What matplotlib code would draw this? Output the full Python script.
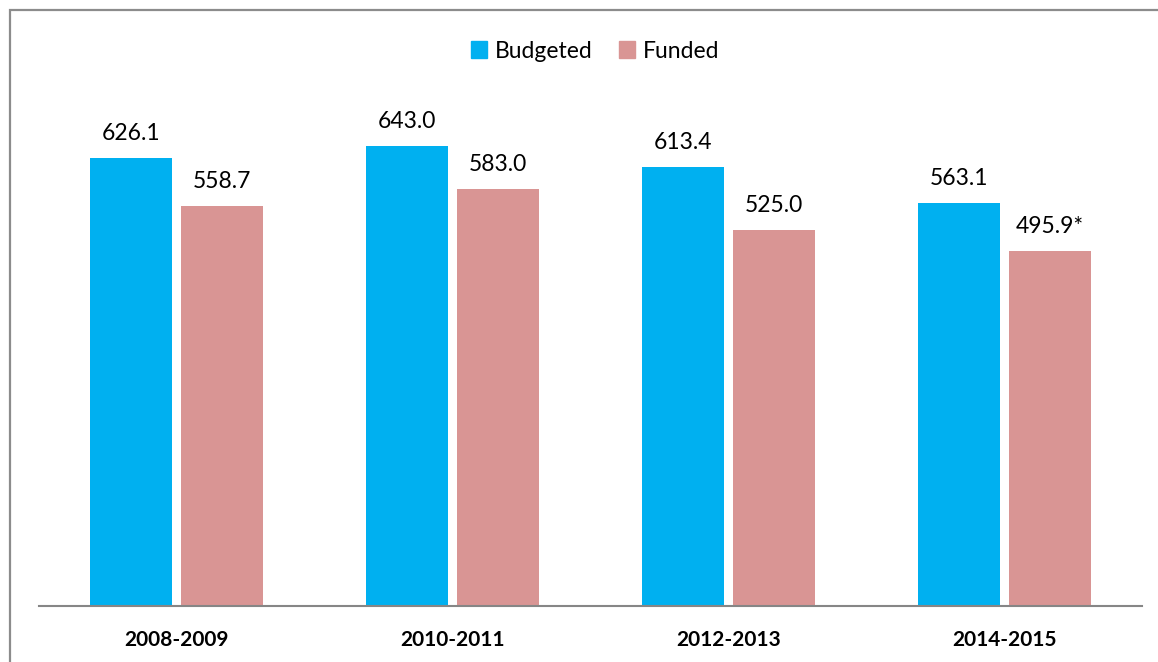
import matplotlib
matplotlib.use("Agg")
import matplotlib.pyplot as plt
from matplotlib.patches import Rectangle, Patch
import numpy as np

categories = ["2008-2009", "2010-2011", "2012-2013", "2014-2015"]
budgeted = [626.1, 643.0, 613.4, 563.1]
funded = [558.7, 583.0, 525.0, 495.9]
budgeted_labels = ["626.1", "643.0", "613.4", "563.1"]
funded_labels = ["558.7", "583.0", "525.0", "495.9*"]
series_names = ["Budgeted", "Funded"]

c_bud = "#00B0F0"
c_fun = "#D99594"

plt.rcParams['font.family'] = ['Lato', 'DejaVu Sans']

W, H = 1158, 662
fig = plt.figure(figsize=(W / 100, H / 100), dpi=100)
ax = fig.add_axes([39 / W, 56 / H, (1142 - 39) / W, (604 - 103) / H])

x = np.arange(len(categories))
bw = 82 / 276
gap = 9 / 276
b1 = ax.bar(x - (bw + gap) / 2, budgeted, bw, color=c_bud, zorder=3)
b2 = ax.bar(x + (bw + gap) / 2, funded, bw, color=c_fun, zorder=3)

for rects, labs in ((b1, budgeted_labels), (b2, funded_labels)):
    for r, lab in zip(rects, labs):
        ax.annotate(lab, (r.get_x() + r.get_width() / 2, r.get_height()),
                    xytext=(0, 13), textcoords="offset points",
                    ha="center", va="baseline", fontsize=16.5, color="#000000")

ax.set_xlim(-0.5, len(categories) - 0.5)
ax.set_ylim(0, 700)
ax.set_yticks([])
ax.set_xticks(x)
ax.set_xticklabels(categories, fontsize=15, fontweight="bold")
ax.tick_params(axis="x", length=0, pad=17)
for s in ("top", "right", "left"):
    ax.spines[s].set_visible(False)
ax.spines["bottom"].set_color("#868686")
ax.spines["bottom"].set_linewidth(1.5)
ax.spines["bottom"].set_zorder(4)

handles = [Patch(color=c_bud), Patch(color=c_fun)]
fig.legend(handles, series_names, loc="center", bbox_to_anchor=(595 / W, 1 - 51 / H),
           ncol=2, frameon=False, fontsize=16.5, handlelength=0.7, handleheight=0.7,
           handletextpad=0.35, columnspacing=1.15, borderaxespad=0)

border = Rectangle((9.5 / W, -0.05), 1.2, (H - 9.5) / H + 0.05, transform=fig.transFigure,
                   fill=False, edgecolor="#8c8c8c", linewidth=1.6)
fig.patches.append(border)

fig.savefig("out.png", dpi=100)
